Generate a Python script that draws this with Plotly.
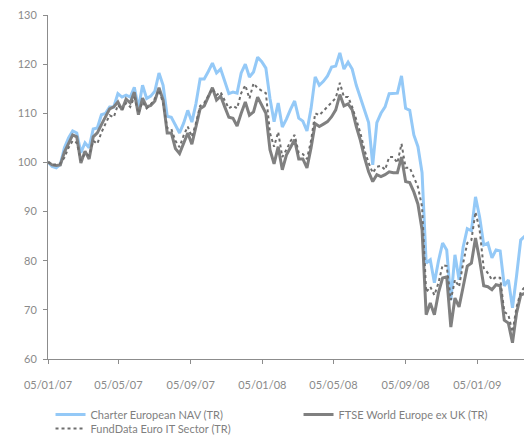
import pandas as pd
import plotly.graph_objects as go

start_date = "2007-01-05"
n_weeks = 117

charter_nav = [100.1, 99.2, 98.9, 99.6, 103, 105, 106.4, 106, 102, 104,
               103, 106.8, 107, 109.7, 110, 111.3, 111.3, 114, 113.3, 113.7,
               113.3, 115.3, 111, 115.7, 113, 113.5, 114.5, 118.2, 115.7, 109.4,
               109.2, 107.5, 106, 108, 110.6, 108.2, 112, 117, 117, 118.5,
               120.2, 118.2, 119, 116.5, 114, 114.3, 114.1, 118.2, 120, 117.4,
               118.4, 121.4, 120.5, 119.2, 113, 108.3, 112.1, 107.2, 108.8, 110.8,
               112.5, 109, 108.4, 106.4, 111, 117.4, 115.7, 116.5, 117.6, 119.4,
               119.6, 122.3, 119, 120.4, 119, 115.7, 113, 110.5, 108.1, 99.5,
               108.1, 110, 111.3, 114, 114, 114.1, 117.6, 111, 110.6, 105.6,
               103.2, 97.9, 79.5, 80.2, 75.5, 80, 83.6, 82.2, 72, 81.2,
               76.1, 82.8, 86.5, 86.1, 93, 88.9, 83.2, 83.6, 80.6, 82.2,
               82, 74.9, 76.1, 70.4, 77, 84.2, 85]

ftse_europe = [100.1, 99.5, 99.4, 99.5, 102.1, 104, 105.6, 105.2, 99.9, 102.3,
               100.7, 105.2, 106, 107.7, 109.3, 110.9, 111.3, 112.3, 110.7, 112.9,
               112.1, 114.3, 109.7, 113.1, 111.3, 111.6, 112.5, 115.2, 112.7, 106,
               106, 102.8, 101.8, 104, 106, 103.7, 107, 110.9, 111.5, 113.3,
               115.2, 112.7, 113.5, 111.3, 109.2, 109, 107.4, 110, 112.3, 109.6,
               110.3, 113.3, 111.5, 110, 102.6, 99.7, 103.2, 98.5, 101.5, 103,
               104.6, 100.7, 100.7, 98.9, 103, 107.9, 107.3, 107.8, 108.3, 109.3,
               110.7, 113.8, 111.5, 111.9, 110.7, 107.3, 104.5, 101, 98.1, 96.1,
               97.5, 97.1, 97.5, 98.1, 97.9, 97.9, 101.1, 96.1, 95.9, 94,
               91.5, 86.3, 69, 71.4, 69, 73.5, 76.5, 76.7, 66.5, 72.4,
               70.6, 74.7, 78.9, 79.5, 84.6, 80.2, 74.9, 74.7, 74.1, 75.1,
               74.9, 67.9, 67.3, 63.3, 69.4, 73, 73.4]

funddata_it = [100.1, 99.5, 99.6, 99.8, 101, 103, 104.4, 104, 100.4, 101.8,
               101.4, 104.4, 103.8, 106.1, 107.9, 109.6, 109.2, 111.7, 110.7, 112.1,
               111.3, 113.3, 110, 112.3, 111, 111.8, 113, 114.7, 112.1, 107,
               106.8, 104.4, 103.1, 105.5, 107.3, 105.2, 108, 111.5, 112.1, 113.5,
               115, 113.7, 114.3, 112.6, 111, 111.5, 111, 114.1, 115.7, 113,
               116.1, 115.1, 114.6, 114.1, 106, 103.2, 106.2, 101.1, 102.6, 104.3,
               105.6, 101.9, 101.7, 100.7, 104.5, 110, 109.6, 110.5, 111.3, 112.3,
               113.1, 116.2, 113.3, 113.3, 111.3, 108.7, 106, 102.5, 99.9, 97.9,
               99.1, 99.3, 98.5, 101.1, 101.1, 99.9, 103.8, 98.9, 98.9, 97,
               95, 91, 73.6, 74.7, 73, 75.5, 79.1, 78.9, 72, 76.1,
               74.7, 79.5, 83.6, 84.2, 89.9, 86.3, 78.5, 77.5, 76.1, 76.7,
               76.5, 69.6, 69, 65.5, 70.6, 73.6, 74.7]

tick_dates = ["2007-01-05", "2007-05-05", "2007-09-05", "2008-01-05",
              "2008-05-05", "2008-09-05", "2009-01-05"]
tick_labels = ["05/01/07", "05/05/07", "05/09/07", "05/01/08",
               "05/05/08", "05/09/08", "05/01/09"]

dates = pd.date_range(start_date, periods=n_weeks, freq="7D")

fig = go.Figure()
fig.add_trace(go.Scatter(x=dates, y=charter_nav, mode="lines",
                         name="Charter European NAV (TR)", legend="legend",
                         line=dict(color="#94C9F7", width=3)))
fig.add_trace(go.Scatter(x=dates, y=ftse_europe, mode="lines",
                         name="FTSE World Europe ex UK (TR)", legend="legend",
                         line=dict(color="#808080", width=3)))
fig.add_trace(go.Scatter(x=dates, y=funddata_it, mode="lines",
                         name="FundData Euro IT Sector (TR)", legend="legend2",
                         line=dict(color="#6E6E6E", width=2, dash="dot")))

axis_color = "#8C8C8C"
tick_font = dict(family="Lato", size=11, color="#8A8A8A")
legend_font = dict(family="Lato", size=11, color="#7F7F7F")

# page body adds an 8px offset, so the figure is sized 8px smaller
fig.update_layout(
    width=524, height=428,
    margin=dict(l=40, r=6, t=7, b=77, autoexpand=False),
    paper_bgcolor="white", plot_bgcolor="white",
    showlegend=True,
    legend=dict(orientation="h", x=-0.001, y=-0.119, xanchor="left", yanchor="top",
                entrywidth=200, entrywidthmode="pixels", indentation=3,
                font=legend_font, itemwidth=30, bgcolor="rgba(0,0,0,0)"),
    legend2=dict(orientation="h", x=-0.001, y=-0.1597, xanchor="left", yanchor="top",
                 entrywidth=200, entrywidthmode="pixels", indentation=3,
                 font=legend_font, itemwidth=30, bgcolor="rgba(0,0,0,0)"),
    xaxis=dict(type="date", range=["2007-01-05", "2009-03-29"],
               tickvals=tick_dates, ticktext=tick_labels,
               showgrid=False, zeroline=False, showline=True,
               linecolor=axis_color, linewidth=1,
               ticks="outside", ticklen=4, tickcolor=axis_color,
               tickfont=tick_font, ticklabelstandoff=12,
               ticklabeloverflow="allow"),
    yaxis=dict(range=[60, 130], dtick=10, tick0=60,
               showgrid=False, zeroline=False, showline=True,
               linecolor=axis_color, linewidth=1,
               ticks="outside", ticklen=4, tickcolor=axis_color,
               tickfont=tick_font, ticklabelstandoff=4,
               ticklabeloverflow="allow"),
)

fig.write_html("out.html")
